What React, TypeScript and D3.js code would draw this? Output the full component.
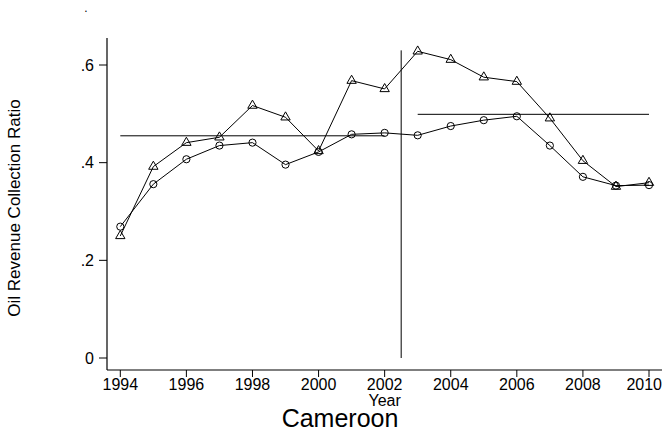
import React, { useEffect, useRef } from 'react';
import * as d3 from 'd3';

// data
const years = [1994, 1995, 1996, 1997, 1998, 1999, 2000, 2001, 2002, 2003, 2004, 2005, 2006, 2007, 2008, 2009, 2010];
const triangleSeries = [0.25, 0.392, 0.441, 0.452, 0.517, 0.493, 0.424, 0.568, 0.551, 0.628, 0.611, 0.575, 0.566, 0.491, 0.404, 0.351, 0.359];
const circleSeries = [0.269, 0.356, 0.407, 0.435, 0.441, 0.396, 0.422, 0.458, 0.461, 0.456, 0.475, 0.487, 0.495, 0.435, 0.371, 0.353, 0.354];
const meanLines = [
  { from: 1994, to: 2002, value: 0.455 },
  { from: 2003, to: 2010, value: 0.499 },
];
const breakYear = 2002.5;
const breakRange = [0, 0.63];
const xTicks = [1994, 1996, 1998, 2000, 2002, 2004, 2006, 2008, 2010];
const yTicks = [0, 0.2, 0.4, 0.6];
const yTickLabels = ['0', '.2', '.4', '.6'];

const width = 665;
const height = 437;
const font = '"Liberation Sans", Arial, Helvetica, sans-serif';

const App = () => {
  const ref = useRef<SVGSVGElement>(null);

  useEffect(() => {
    const svg = d3.select(ref.current);
    svg.selectAll('*').remove();

    const x = d3.scaleLinear().domain([1994, 2010]).range([120.3, 649]);
    const y = d3.scaleLinear().domain([0, 0.6]).range([358, 65]);
    const axisX = 107;
    const axisY = 370;

    // axes lines
    svg.append('line').attr('x1', axisX).attr('x2', axisX).attr('y1', 38).attr('y2', axisY)
      .attr('stroke', '#000').attr('stroke-width', 1.2);
    svg.append('line').attr('x1', axisX).attr('x2', 662).attr('y1', axisY).attr('y2', axisY)
      .attr('stroke', '#000').attr('stroke-width', 1.2);

    // y ticks
    const yg = svg.append('g');
    yTicks.forEach((t, i) => {
      yg.append('line').attr('x1', axisX - 8).attr('x2', axisX).attr('y1', y(t)).attr('y2', y(t))
        .attr('stroke', '#000');
      yg.append('text').attr('x', axisX - 13).attr('y', y(t)).attr('dy', '0.35em')
        .attr('text-anchor', 'end').attr('font-family', font).attr('font-size', 16)
        .text(yTickLabels[i]);
    });

    // x ticks (last label pulled in so it stays inside the frame)
    const xg = svg.append('g');
    xTicks.forEach((t, i) => {
      const last = i === xTicks.length - 1;
      xg.append('line').attr('x1', x(t)).attr('x2', x(t)).attr('y1', axisY).attr('y2', axisY + 7)
        .attr('stroke', '#000');
      xg.append('text').attr('x', last ? width - 3 : x(t)).attr('y', 390)
        .attr('text-anchor', last ? 'end' : 'middle')
        .attr('font-family', font).attr('font-size', 16).text(t);
    });

    // reference lines
    svg.append('line').attr('x1', x(breakYear)).attr('x2', x(breakYear))
      .attr('y1', y(breakRange[0])).attr('y2', y(breakRange[1])).attr('stroke', '#000');
    meanLines.forEach((m) => {
      svg.append('line').attr('x1', x(m.from)).attr('x2', x(m.to))
        .attr('y1', y(m.value)).attr('y2', y(m.value)).attr('stroke', '#000');
    });

    const line = d3.line<number>().x((_, i) => x(years[i])).y((d) => y(d));

    svg.append('path').datum(circleSeries).attr('d', line).attr('fill', 'none')
      .attr('stroke', '#000').attr('stroke-width', 1);
    svg.append('path').datum(triangleSeries).attr('d', line).attr('fill', 'none')
      .attr('stroke', '#000').attr('stroke-width', 1);

    svg.append('g').selectAll('circle').data(circleSeries).enter().append('circle')
      .attr('cx', (_, i) => x(years[i])).attr('cy', (d) => y(d)).attr('r', 3.6)
      .attr('fill', 'none').attr('stroke', '#000').attr('stroke-width', 1);

    const tri = d3.symbol().type(d3.symbolTriangle).size(38);
    svg.append('g').selectAll('path').data(triangleSeries).enter().append('path')
      .attr('d', tri)
      .attr('transform', (d, i) => `translate(${x(years[i])},${y(d)})`)
      .attr('fill', 'none').attr('stroke', '#000').attr('stroke-width', 1);

    // titles
    svg.append('text').attr('x', 86).attr('y', 12).attr('font-family', font).attr('font-size', 12)
      .attr('text-anchor', 'middle').text('.');
    svg.append('text').attr('x', x(2002)).attr('y', 406).attr('text-anchor', 'middle')
      .attr('font-family', font).attr('font-size', 16).text('Year');
    svg.append('text').attr('x', 340).attr('y', 427).attr('text-anchor', 'middle')
      .attr('font-family', font).attr('font-size', 25).text('Cameroon');
    svg.append('text').attr('transform', 'translate(20,208) rotate(-90)')
      .attr('text-anchor', 'middle').attr('font-family', font).attr('font-size', 17)
      .text('Oil Revenue Collection Ratio');
  }, []);

  return (
    <svg
      ref={ref}
      width={width}
      height={height}
      style={{ position: 'absolute', left: 0, top: 0, background: '#fff' }}
    />
  );
};

export default App;
